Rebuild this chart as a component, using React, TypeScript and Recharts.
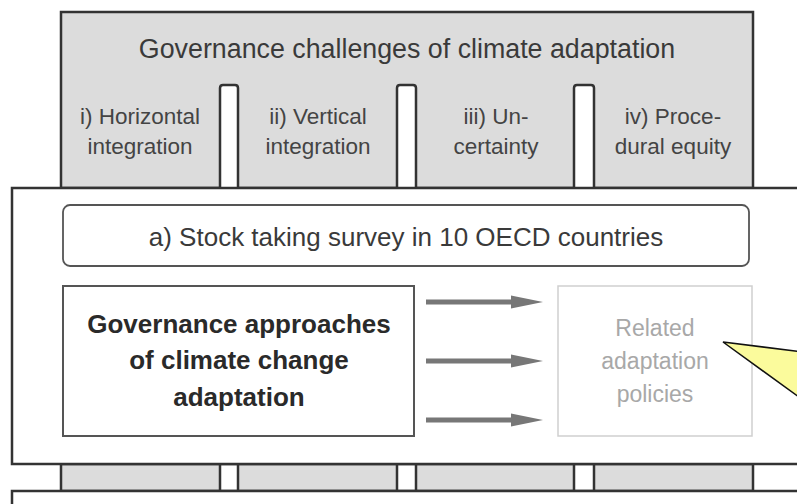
import React from "react";
import {
  ComposedChart,
  XAxis,
  YAxis,
  ReferenceArea,
  ReferenceLine,
  ReferenceDot,
} from "recharts";

// texts of the diagram
const challengeTitle = "Governance challenges of climate adaptation";
const challengeLines = [
  ["i) Horizontal", "integration"],
  ["ii) Vertical", "integration"],
  ["iii) Un-", "certainty"],
  ["iv) Proce-", "dural equity"],
];
const surveyLabel = "a) Stock taking survey in 10 OECD countries";
const approachLines = ["Governance approaches", "of climate change", "adaptation"];
const policyLines = ["Related", "adaptation", "policies"];

// layout in page pixels (the axes map 1:1)
const W = 797;
const H = 504;
const challengeCenters = [140, 318, 496, 673];
const pillars = [
  [220, 238],
  [397, 416],
  [574, 594],
];
const arrowRows = [302, 361, 420];

const FONT = "'Liberation Sans', Arial, sans-serif";
const DARK = "#333";
const GREY = "#dcdcdc";

function MultiText({
  cx,
  cy,
  lines,
  size,
  gap,
  fill,
  weight = 400,
}: {
  cx: number;
  cy: number;
  lines: string[];
  size: number;
  gap: number;
  fill: string;
  weight?: number;
}) {
  const start = cy - ((lines.length - 1) * gap) / 2;
  return (
    <text
      textAnchor="middle"
      fontFamily={FONT}
      fontSize={size}
      fontWeight={weight}
      fill={fill}
    >
      {lines.map((l, i) => (
        <tspan key={i} x={cx} y={start + i * gap} dominantBaseline="central">
          {l}
        </tspan>
      ))}
    </text>
  );
}

const box =
  (fill: string, stroke: string, sw: number, rx = 0) =>
  (p: any) => (
    <rect
      x={p.x}
      y={p.y}
      width={p.width}
      height={p.height}
      rx={rx}
      fill={fill}
      stroke={stroke}
      strokeWidth={sw}
    />
  );

const pillarShape = (p: any) => (
  <path
    d={`M${p.x},${p.y + p.height} L${p.x},${p.y + 3} Q${p.x},${p.y} ${p.x + 3},${p.y} L${p.x + p.width - 3},${p.y} Q${p.x + p.width},${p.y} ${p.x + p.width},${p.y + 3} L${p.x + p.width},${p.y + p.height}`}
    fill="#fff"
    stroke={DARK}
    strokeWidth={2.5}
  />
);

const arrowHead = (p: any) => (
  <polygon
    points={`${p.cx - 32},${p.cy - 6.5} ${p.cx},${p.cy} ${p.cx - 32},${p.cy + 6.5}`}
    fill="#777"
  />
);

const callout = (p: any) => (
  <polygon
    points={`${p.cx},${p.cy} ${p.cx + 80},${p.cy + 10} ${p.cx + 80},${p.cy + 58}`}
    fill="#fbfb9c"
    stroke="#111"
    strokeWidth={1.5}
  />
);

export default function App() {
  return (
    <div style={{ width: W, height: H, background: "#fff" }}>
      <style>{`body{margin:0}`}</style>
      <ComposedChart
        width={W}
        height={H}
        data={[{ x: 0, y: 0 }]}
        margin={{ top: 0, right: 0, bottom: 0, left: 0 }}
      >
        <XAxis type="number" dataKey="x" domain={[0, W]} hide allowDataOverflow />
        <YAxis type="number" dataKey="y" domain={[0, H]} reversed hide allowDataOverflow />

        {/* challenges panel */}
        <ReferenceArea x1={61} x2={753} y1={12} y2={188} shape={box(GREY, DARK, 2.5)} ifOverflow="visible" />
        {pillars.map(([a, b], i) => (
          <ReferenceArea key={"pt" + i} x1={a} x2={b} y1={85} y2={190} shape={pillarShape} ifOverflow="visible" />
        ))}

        {/* bottom strip */}
        <ReferenceArea x1={61} x2={753} y1={464} y2={491} shape={box(GREY, DARK, 2.5)} ifOverflow="visible" />
        {pillars.map(([a, b], i) => (
          <ReferenceArea key={"pb" + i} x1={a} x2={b} y1={464} y2={491} shape={box("#fff", DARK, 2.5)} ifOverflow="visible" />
        ))}
        <ReferenceArea x1={12} x2={830} y1={491} y2={540} shape={box("#fff", DARK, 2.5)} ifOverflow="visible" />

        {/* main white panel */}
        <ReferenceArea x1={12} x2={830} y1={188} y2={464} shape={box("#fff", DARK, 2.5)} ifOverflow="visible" />
        <ReferenceArea x1={63} x2={749} y1={205} y2={266} shape={box("#fff", "#555", 1.8, 7)} ifOverflow="visible" />
        <ReferenceArea x1={63} x2={414} y1={286} y2={436} shape={box("#fff", "#555", 2)} ifOverflow="visible" />
        <ReferenceArea x1={558} x2={752} y1={286} y2={436} shape={box("#fff", "#cfcfcf", 1.5)} ifOverflow="visible" />

        {/* arrows */}
        {arrowRows.map((y, i) => (
          <ReferenceLine
            key={"al" + i}
            segment={[
              { x: 426, y },
              { x: 515, y },
            ]}
            stroke="#777"
            strokeWidth={5}
            ifOverflow="visible"
          />
        ))}
        {arrowRows.map((y, i) => (
          <ReferenceDot key={"ah" + i} x={543} y={y} shape={arrowHead} ifOverflow="visible" />
        ))}

        {/* texts */}
        <ReferenceDot
          x={407}
          y={49}
          ifOverflow="visible"
          shape={(p: any) => <MultiText cx={p.cx} cy={p.cy} lines={[challengeTitle]} size={26.8} gap={0} fill="#3a3a3a" />}
        />
        {challengeLines.map((lines, i) => (
          <ReferenceDot
            key={"cl" + i}
            x={challengeCenters[i]}
            y={131}
            ifOverflow="visible"
            shape={(p: any) => <MultiText cx={p.cx} cy={p.cy} lines={lines} size={22.5} gap={30} fill="#444" />}
          />
        ))}
        <ReferenceDot
          x={406}
          y={237}
          ifOverflow="visible"
          shape={(p: any) => <MultiText cx={p.cx} cy={p.cy} lines={[surveyLabel]} size={26} gap={0} fill="#3a3a3a" />}
        />
        <ReferenceDot
          x={239}
          y={360}
          ifOverflow="visible"
          shape={(p: any) => <MultiText cx={p.cx} cy={p.cy} lines={approachLines} size={26} gap={36.5} fill="#2a2a2a" weight={700} />}
        />
        <ReferenceDot
          x={655}
          y={361}
          ifOverflow="visible"
          shape={(p: any) => <MultiText cx={p.cx} cy={p.cy} lines={policyLines} size={23} gap={33} fill="#a8a8a8" />}
        />

        {/* yellow callout */}
        <ReferenceDot x={723} y={342} shape={callout} ifOverflow="visible" />
      </ComposedChart>
    </div>
  );
}
